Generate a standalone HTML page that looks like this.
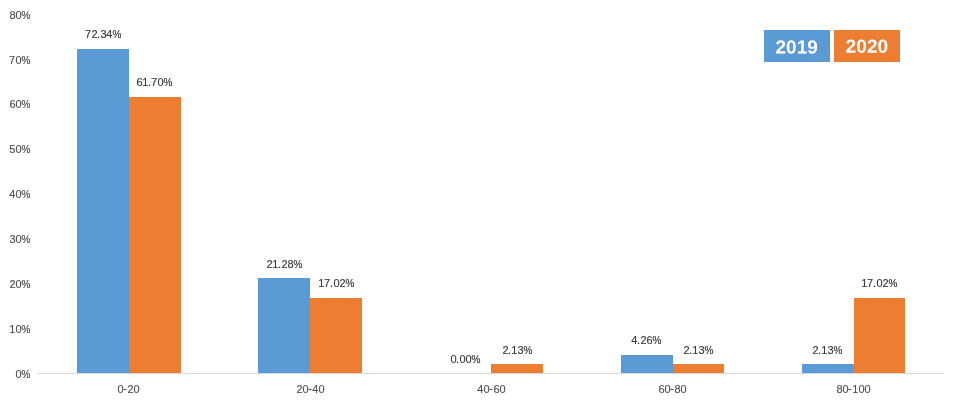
<!DOCTYPE html>
<html lang="en">
<head>
<meta charset="utf-8">
<title>Chart</title>
<style>
html,body{margin:0;padding:0;background:#fff;}
body{width:959px;height:407px;overflow:hidden;}
svg{display:block;}
text{font-family:"Liberation Sans",sans-serif;}
.ax{font-size:11.0px;fill:#505050;stroke:#505050;stroke-width:0.15;}
.dl{font-size:11.0px;fill:#3a3a3a;stroke:#3a3a3a;stroke-width:0.15;}
.p{font-size:10.0px;stroke-width:0.2;}
.lg{font-size:19px;font-weight:bold;fill:#ffffff;}
</style>
</head>
<body>
<svg width="959" height="407" viewBox="0 0 959 407">
<rect x="0" y="0" width="959" height="407" fill="#ffffff"/>
<text class="ax" x="15.4 21.4" y="378">0<tspan class="p">%</tspan></text>
<text class="ax" x="9.2 15.4 21.4" y="333">10<tspan class="p">%</tspan></text>
<text class="ax" x="9.4 15.4 21.4" y="288">20<tspan class="p">%</tspan></text>
<text class="ax" x="9.4 15.4 21.4" y="243">30<tspan class="p">%</tspan></text>
<text class="ax" x="9.2 15.4 21.4" y="198">40<tspan class="p">%</tspan></text>
<text class="ax" x="9.2 15.4 21.4" y="153">50<tspan class="p">%</tspan></text>
<text class="ax" x="9.4 15.4 21.4" y="108">60<tspan class="p">%</tspan></text>
<text class="ax" x="9 15.4 21.4" y="64">70<tspan class="p">%</tspan></text>
<text class="ax" x="9.4 15.4 21.4" y="19">80<tspan class="p">%</tspan></text>
<rect x="38" y="373" width="906" height="1" fill="#d9d9d9"/>
<rect x="77" y="49" width="52" height="324" fill="#5b9bd5"/>
<rect x="129" y="97" width="52" height="276" fill="#ed7d31"/>
<rect x="258" y="278" width="52" height="95" fill="#5b9bd5"/>
<rect x="310" y="298" width="52" height="75" fill="#ed7d31"/>
<rect x="491" y="364" width="52" height="9" fill="#ed7d31"/>
<rect x="621" y="355" width="52" height="18" fill="#5b9bd5"/>
<rect x="673" y="364" width="51" height="9" fill="#ed7d31"/>
<rect x="802" y="364" width="52" height="9" fill="#5b9bd5"/>
<rect x="854" y="298" width="51" height="75" fill="#ed7d31"/>
<text class="dl" x="85 91.4 97 100.4 106.2 112.4" y="38">72.34<tspan class="p">%</tspan></text>
<text class="dl" x="136.4 142.2 148 151 157.4 163.4" y="86">61.70<tspan class="p">%</tspan></text>
<text class="dl" x="266.4 272.2 278 281.4 287.4 293.4" y="268">21.28<tspan class="p">%</tspan></text>
<text class="dl" x="318.2 324 330 333.4 339.4 345.4" y="287">17.02<tspan class="p">%</tspan></text>
<text class="dl" x="450.4 456 459.4 465.4 471.4" y="363">0.00<tspan class="p">%</tspan></text>
<text class="dl" x="502.4 508 511.2 517.4 523.4" y="354">2.13<tspan class="p">%</tspan></text>
<text class="dl" x="631.2 637 640.4 646.4 652.4" y="344">4.26<tspan class="p">%</tspan></text>
<text class="dl" x="683.4 689 692.2 698.4 704.4" y="354">2.13<tspan class="p">%</tspan></text>
<text class="dl" x="812.4 818 821.2 827.4 833.4" y="354">2.13<tspan class="p">%</tspan></text>
<text class="dl" x="861.2 867 873 876.4 882.4 888.4" y="287">17.02<tspan class="p">%</tspan></text>
<text class="ax" x="117.4 123.2 127.4 133.4" y="393" dy="0 -1 1 0">0-20</text>
<text class="ax" x="296.4 302.4 308.2 312.2 318.4" y="393" dy="0 0 -1 1 0">20-40</text>
<text class="ax" x="477.2 483.4 489.2 493.4 499.4" y="393" dy="0 0 -1 1 0">40-60</text>
<text class="ax" x="658.4 664.4 670.2 674.4 680.4" y="393" dy="0 0 -1 1 0">60-80</text>
<text class="ax" x="836.4 842.4 848.2 852.2 858.4 864.4" y="393" dy="0 0 -1 1 0 0">80-100</text>
<rect x="764" y="30" width="66" height="32" fill="#5b9bd5"/>
<rect x="834" y="30" width="66" height="32" fill="#ed7d31"/>
<text class="lg" x="775.54" y="53.40" transform="matrix(1 0.0005 0 1 0 -0.3983)" textLength="42.26" lengthAdjust="spacingAndGlyphs">2019</text>
<text class="lg" x="845.53" y="52.80" transform="matrix(1 0.0005 0 1 0 -0.4334)" textLength="42.75" lengthAdjust="spacingAndGlyphs">2020</text>
</svg>
</body>
</html>
